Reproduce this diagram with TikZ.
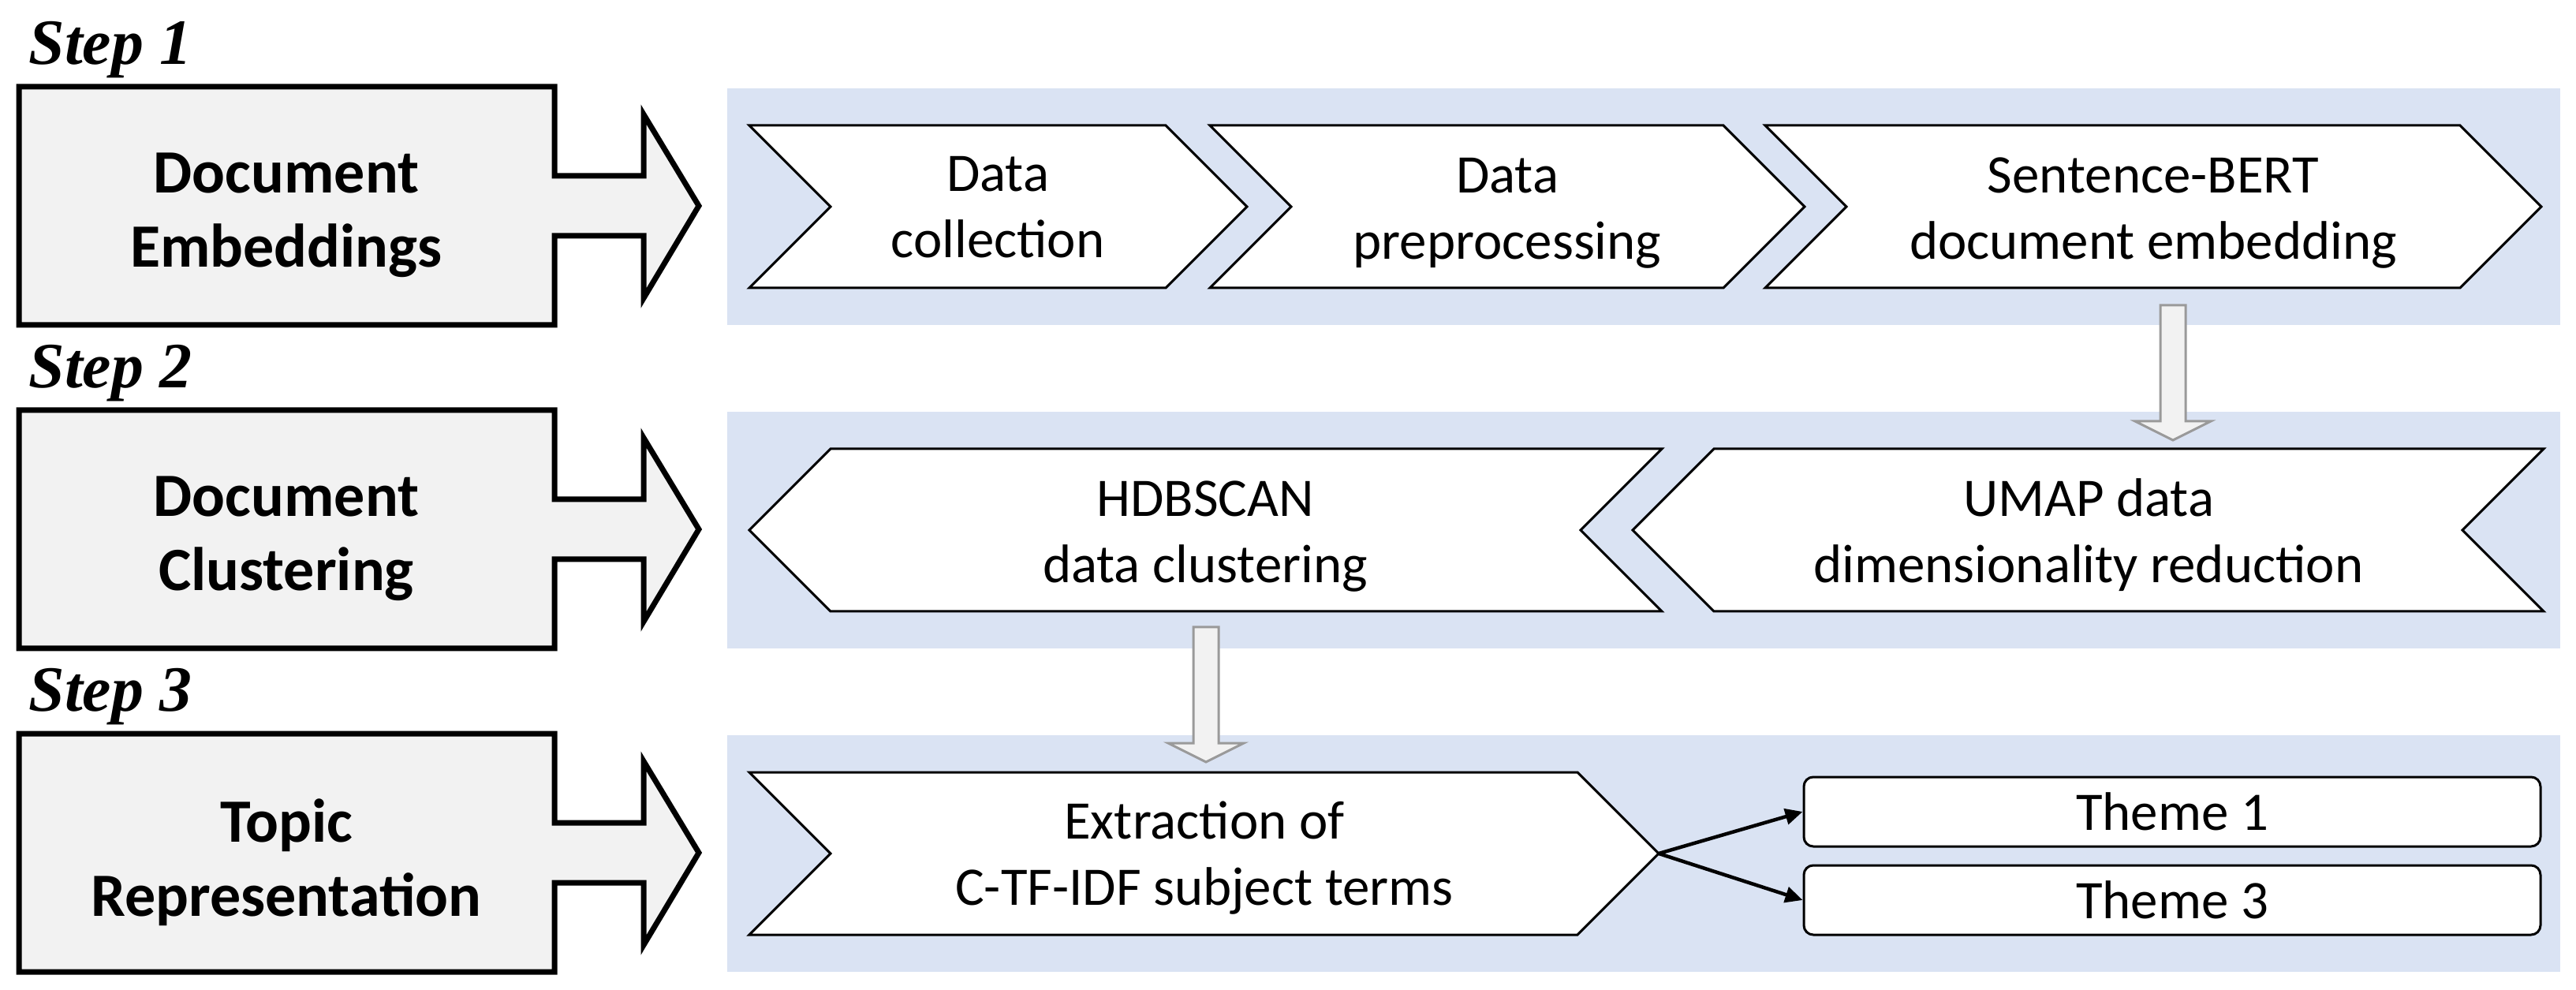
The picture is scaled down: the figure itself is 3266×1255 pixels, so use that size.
\documentclass[tikz,border=0pt]{standalone}
\usepackage{fontspec}
\setmainfont{Carlito}
\newfontfamily\stepfont{Liberation Serif}
\usetikzlibrary{arrows.meta}

\definecolor{panelblue}{HTML}{DAE3F3}
\definecolor{boxgray}{HTML}{F2F2F2}
\definecolor{edgegray}{HTML}{9A9A9A}

\tikzset{
  panel/.style={fill=panelblue},
  bigbox/.style={draw=black, fill=boxgray, line width=0.7mm},
  chev/.style={draw=black, fill=white, line width=0.3mm},
  chevtext/.style={align=center, inner sep=0pt, font=\fontsize{19.6}{23.9}\selectfont},
  boxtext/.style={align=center, inner sep=0pt, font=\bfseries\fontsize{22.2}{26.7}\selectfont},
  steplabel/.style={anchor=base west, inner sep=0pt, font=\stepfont\bfseries\itshape\fontsize{23.3}{28}\selectfont},
  theme/.style={draw=black, fill=white, line width=0.3mm, rounded corners=1.2mm,
    minimum width=93.4mm, minimum height=8.8mm, inner sep=0pt, font=\fontsize{19.6}{23.9}\selectfont},
  fatarrow/.style={draw=edgegray, fill=boxgray, line width=0.3mm},
  thinarrow/.style={-{Triangle[length=2.2mm,width=2mm]}, line width=0.45mm}
}

\begin{document}
\begin{tikzpicture}[x=0.1mm,y=-0.1mm]
    \useasboundingbox (0,0) rectangle (3266,1255);

    \foreach \n/\dy/\txt/\ty in {1/0/{Document\\Embeddings}/273, 2/410/{Document\\Clustering}/683, 3/820/{Topic\\Representation}/1093} {
        \fill[panel] (922,112+\dy) rectangle (3246,412+\dy);
        \draw[bigbox] (24,110+\dy) -- (703,110+\dy) -- (703,223+\dy) -- (816,223+\dy) -- (816,145+\dy)
            -- (886,261+\dy) -- (816,378+\dy) -- (816,299+\dy) -- (703,299+\dy) -- (703,412+\dy) -- (24,412+\dy) -- cycle;
        \node[steplabel] (step\n) at (36,82+\dy) {Step \n};
        \node[boxtext] (box\n) at (363,\ty) {\txt};
    }

    \draw[chev] (950,159) -- (1478,159) -- (1581,262) -- (1478,365) -- (950,365) -- (1053,262) -- cycle;
    \draw[chev] (1534,159) -- (2185,159) -- (2288,262) -- (2185,365) -- (1534,365) -- (1637,262) -- cycle;
    \draw[chev] (2238,159) -- (3119,159) -- (3222,262) -- (3119,365) -- (2238,365) -- (2341,262) -- cycle;

    \draw[chev] (1053,569) -- (2107,569) -- (2004,672) -- (2107,775) -- (1053,775) -- (950,672) -- cycle;
    \draw[chev] (2173,569) -- (3225,569) -- (3122,672) -- (3225,775) -- (2173,775) -- (2070,672) -- cycle;

    \draw[chev] (950,979) -- (2000,979) -- (2103,1082) -- (2000,1185) -- (950,1185) -- (1053,1082) -- cycle;
    \coordinate (ctip) at (2103,1082);

    \node[chevtext] (dcoll) at (1265,263) {Data\\collection};
    \node[chevtext] (dprep) at (1911,270) {Data\\preprocessing};
    \node[chevtext] (sbert) at (2730,270) {Sentence-BERT\\document embedding};
    \node[chevtext] (hdbscan) at (1528,680) {HDBSCAN\\data clustering};
    \node[chevtext] (umap) at (2648,678) {UMAP data\\dimensionality reduction};
    \node[chevtext] (ctfidf) at (1527,1088) {Extraction of\\C-TF-IDF subject terms};

    \node[theme] (theme1) at (2754,1029) {Theme 1};
    \node[theme] (theme3) at (2754,1141) {Theme 3};

    \foreach \x/\y in {2755/387, 1529/795}
        \draw[fatarrow] (\x-16,\y) -- ++(32,0) -- ++(0,147) -- ++(32,0) -- ++(-48,24) -- ++(-48,-24) -- ++(32,0) -- cycle;

    \draw[thinarrow] (ctip) -- (theme1.west);
    \draw[thinarrow] (ctip) -- (theme3.west);
\end{tikzpicture}
\end{document}
